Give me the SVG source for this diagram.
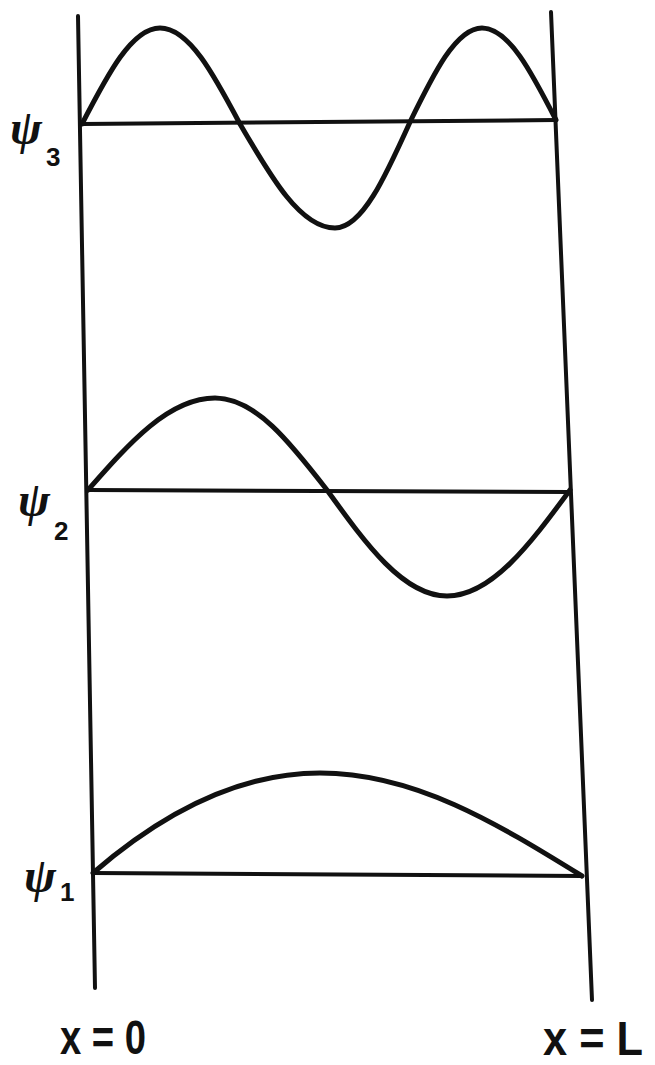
<svg xmlns="http://www.w3.org/2000/svg" width="655" height="1065" viewBox="0 0 655 1065">
<style>
.ln{stroke:#111;stroke-width:4;fill:none;stroke-linecap:round}
.wv{stroke:#111;stroke-width:5;fill:none;stroke-linecap:round;stroke-linejoin:round}
.psi{font-family:"Liberation Serif",serif;font-style:italic;font-weight:bold;font-size:48px;fill:#111}
.sub{font-family:"Liberation Sans",sans-serif;font-weight:bold;font-size:26px;fill:#111}
.ax{font-family:"Liberation Sans",sans-serif;font-weight:bold;font-size:48px;fill:#111}
</style>
<rect width="655" height="1065" fill="#fff"/>
<g id="walls">
<line class="ln" x1="78" y1="16" x2="95" y2="988"/>
<line class="ln" x1="551" y1="12" x2="592" y2="1000"/>
</g>
<g id="psi3">
<line class="ln" x1="82" y1="124" x2="556" y2="120"/>
<path class="wv" d="M82,124 C107.4,74.8 131.8,28 160,28 C189,28 213.9,74.8 240,124 C271,177.3 300.6,228 335,228 C362.2,228 385.5,176.3 410,122 C433.5,73.9 456,28 482,28 C508.8,28 531.9,72.9 556,120"/>
<text class="psi" x="10" y="144">ψ</text>
<text class="sub" x="46" y="166">3</text>
</g>
<g id="psi2">
<line class="ln" x1="88" y1="490" x2="570" y2="492"/>
<path class="wv" d="M88,490 C129.4,442.9 169,398 215,398 C255.5,398 290.5,442.9 327,490 C366.1,544.3 403.6,596 447,596 C491.5,596 529.9,544.3 570,490"/>
<text class="psi" x="18" y="516">ψ</text>
<text class="sub" x="54" y="540">2</text>
</g>
<g id="psi1">
<line class="ln" x1="93" y1="873" x2="582" y2="876"/>
<path class="wv" d="M93,873 C160,815 237.8,773 320,773 C414.8,773 496.6,823.3 582,876"/>
<text class="psi" x="24" y="892">ψ</text>
<text class="sub" x="60" y="901">1</text>
</g>
<g id="labels">
<text class="ax" x="60" y="1054" textLength="86" lengthAdjust="spacingAndGlyphs">x = 0</text>
<text class="ax" x="543" y="1055" textLength="100" lengthAdjust="spacingAndGlyphs">x = L</text>
</g>
</svg>
